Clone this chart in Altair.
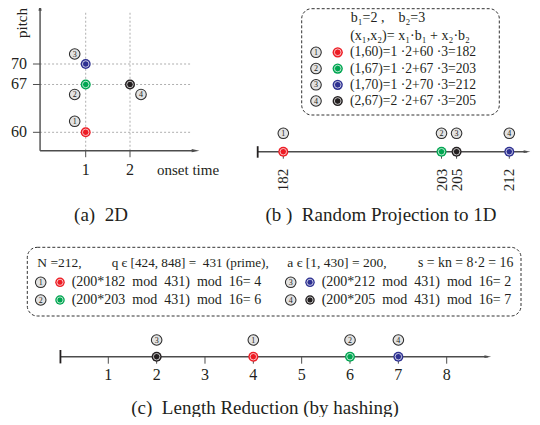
import altair as alt
import pandas as pd

SERIF = "Liberation Serif"
INK = "#231f20"
AXC = "#4d4d4d"
GRID = "#9b9b9b"
TAG_FILL = "#e3e3e3"
RED, GREEN, BLUE, BLACK = "#ed1c24", "#00a651", "#2e3192", "#231f20"
NB = "\u00a0"

# ---------------- data ----------------
point_ids = ["1", "2", "3", "4"]
onset_time = [1, 1, 1, 2]
pitch = [60, 67, 70, 67]
point_colors = [RED, GREEN, BLUE, BLACK]
b1, b2 = 2, 3
projected = [182, 203, 212, 205]
hash_a, hash_q, hash_s = 200, 431, 16
hashed = [4, 6, 2, 7]

a_grid_onset = [1, 2]
a_grid_pitch = [60, 67, 70]
a_tag_dx = [-11, -11, -11, 11]   # pixel placement of the circled ids in (a)
a_tag_dy = [-11, 10, -10, 10]

# projection line (b), as drawn left to right
b_pos = [182, 203, 205, 212]
b_colors = [RED, GREEN, BLACK, BLUE]
b_tags = ["1", "2", "3", "4"]

# hashed line (c), as drawn left to right
c_ticks = [1, 2, 3, 4, 5, 6, 7, 8]
c_pos = [2, 4, 6, 7]
c_colors = [BLACK, RED, GREEN, BLUE]
c_tags = ["3", "1", "2", "4"]

# axis extents (in data units)
A_X_LO, A_X_HI = -0.03, 3.45
A_Y_LO, A_Y_HI = 57.3, 77.9
B_LO, B_HI = 178.6, 214.35
C_LO, C_HI = 0.01, 8.85


def S(domain, rng):
    return alt.Scale(domain=domain, range=rng, nice=False, zero=False)


A_XR = [33.4, 166.3]
A_YR = [124.3, 56]
AX = S([0, 3], A_XR)
AY = S([60, 70], A_YR)
BX = S([182, 212], [275.3, 501.3])
CX = S([1, 8], [100.3, 438.7])
PX_PER_ONSET = (A_XR[1] - A_XR[0]) / 3
PX_PER_PITCH = (A_YR[0] - A_YR[1]) / 10


def qx(f, sc):
    return alt.X(f, type="quantitative", scale=sc, axis=None)


def qy(f, sc):
    return alt.Y(f, type="quantitative", scale=sc, axis=None)


def D(**cols):
    return pd.DataFrame(cols)


ARROW_R = "M-1,-0.42L1,0L-1,0.42Z"
ARROW_U = "M-0.42,1L0,-1L0.42,1Z"

layers = []


def note(text, x, y, size=14, align="left", angle=0, baseline="middle"):
    kw = dict(font=SERIF, fontSize=size, color=INK, align=align, baseline=baseline)
    if angle:
        kw["angle"] = angle
    return alt.Chart(D(t=[text])).mark_text(**kw).encode(
        text="t:N", x=alt.value(x), y=alt.value(y))


def dots(data, xe, ye, size=100):
    disc = alt.Chart(data).mark_point(filled=True, size=size, opacity=1).encode(
        x=xe, y=ye, fill=alt.Fill("color:N", scale=None))
    ring = alt.Chart(data).mark_point(filled=False, size=size * 0.42, stroke="white",
                                      strokeWidth=0.75, opacity=0.95).encode(x=xe, y=ye)
    return [disc, ring]


def tags(data, xe, ye):
    c = alt.Chart(data).mark_point(shape="circle", filled=True, size=112, fill=TAG_FILL,
                                   stroke="#2b2b2b", strokeWidth=1.05, opacity=1).encode(x=xe, y=ye)
    t = alt.Chart(data).mark_text(font=SERIF, fontSize=8, color=INK, align="center",
                                  baseline="middle", dy=0.5).encode(text="id:N", x=xe, y=ye)
    return [c, t]


# ---------------- panel (a) ----------------
layers.append(alt.Chart(D(t=a_grid_onset, lo=[A_Y_LO] * 2, hi=[77.5] * 2)).mark_rule(
    color=GRID, strokeDash=[2, 2], strokeWidth=0.8).encode(
    x=qx("t", AX), y=qy("lo", AY), y2="hi"))
layers.append(alt.Chart(D(p=a_grid_pitch, lo=[A_X_LO] * 3, hi=[3.40] * 3)).mark_rule(
    color=GRID, strokeDash=[2, 2], strokeWidth=0.8).encode(
    y=qy("p", AY), x=qx("lo", AX), x2="hi"))
layers.append(alt.Chart(D(p=a_grid_pitch, lo=[-0.19] * 3, hi=[A_X_LO] * 3)).mark_rule(
    color=AXC, strokeWidth=1).encode(y=qy("p", AY), x=qx("lo", AX), x2="hi"))
layers.append(alt.Chart(D(t=a_grid_onset, lo=[56.35] * 2, hi=[A_Y_LO] * 2)).mark_rule(
    color=AXC, strokeWidth=1).encode(x=qx("t", AX), y=qy("lo", AY), y2="hi"))
layers.append(alt.Chart(D(x=[A_X_LO, A_X_LO], x2=[A_X_LO, A_X_HI],
                          y=[A_Y_LO, A_Y_LO], y2=[A_Y_HI, A_Y_LO])).mark_rule(
    color=AXC, strokeWidth=1.4).encode(x=qx("x", AX), x2="x2", y=qy("y", AY), y2="y2"))
layers.append(alt.Chart(D(x=[A_X_LO, A_X_HI + 0.03], y=[A_Y_HI + 0.45, A_Y_LO],
                          shp=[ARROW_U, ARROW_R])).mark_point(
    filled=True, size=60, color=AXC, opacity=1).encode(
    x=qx("x", AX), y=qy("y", AY), shape=alt.Shape("shp:N", scale=None)))
layers.append(alt.Chart(D(p=a_grid_pitch, x=[A_X_LO] * 3, lab=[str(v) for v in a_grid_pitch])).mark_text(
    font=SERIF, fontSize=16, color=INK, align="right", baseline="middle", dx=-13).encode(
    x=qx("x", AX), y=qy("p", AY), text="lab:N"))
layers.append(alt.Chart(D(t=a_grid_onset, y=[A_Y_LO] * 2, lab=[str(v) for v in a_grid_onset])).mark_text(
    font=SERIF, fontSize=16, color=INK, align="center", baseline="middle", dy=19).encode(
    x=qx("t", AX), y=qy("y", AY), text="lab:N"))
layers.append(alt.Chart(D(x=[2.61], y=[A_Y_LO], lab=["onset time"])).mark_text(
    font=SERIF, fontSize=15, color=INK, align="left", baseline="middle", dy=19).encode(
    x=qx("x", AX), y=qy("y", AY), text="lab:N"))
layers.append(alt.Chart(D(x=[-0.44], y=[76.0], lab=["pitch"])).mark_text(
    font=SERIF, fontSize=15, color=INK, align="center", baseline="middle", angle=270).encode(
    x=qx("x", AX), y=qy("y", AY), text="lab:N"))

a_df = D(id=point_ids, onset=onset_time, pitch=pitch, color=point_colors)
a_df["tx"] = a_df["onset"] + pd.Series(a_tag_dx) / PX_PER_ONSET
a_df["ty"] = a_df["pitch"] - pd.Series(a_tag_dy) / PX_PER_PITCH
layers += dots(a_df, qx("onset", AX), qy("pitch", AY))
layers += tags(a_df, qx("tx", AX), qy("ty", AY))

# ---------------- panel (b) ----------------
B_Y = 143.7
layers.append(alt.Chart(D(x=[B_LO], x2=[B_HI])).mark_rule(color=AXC, strokeWidth=1.4).encode(
    x=qx("x", BX), x2="x2", y=alt.value(B_Y)))
layers.append(alt.Chart(D(x=[B_LO])).mark_rule(color=INK, strokeWidth=1.8).encode(
    x=qx("x", BX), y=alt.value(B_Y - 5.5), y2=alt.value(B_Y + 6)))
layers.append(alt.Chart(D(x=[B_HI], shp=[ARROW_R])).mark_point(
    filled=True, size=45, color=AXC, opacity=1).encode(
    x=qx("x", BX), y=alt.value(B_Y), shape=alt.Shape("shp:N", scale=None)))
b_df = D(id=b_tags, v=b_pos, color=b_colors, lab=[str(v) for v in b_pos])
layers.append(alt.Chart(b_df).mark_rule(color=AXC, strokeWidth=1).encode(
    x=qx("v", BX), y=alt.value(B_Y), y2=alt.value(B_Y + 7)))
layers += dots(b_df, qx("v", BX), alt.value(B_Y))
layers += tags(b_df, qx("v", BX), alt.value(B_Y - 18.4))
layers.append(alt.Chart(b_df).mark_text(
    font=SERIF, fontSize=15, color=INK, align="center", baseline="middle", angle=270).encode(
    x=qx("v", BX), y=alt.value(172), text="lab:N"))

# box (b)
layers.append(alt.Chart(D(k=[0])).mark_rect(
    fill="transparent", stroke="#333333", strokeWidth=1, strokeDash=[3, 2], cornerRadius=10).encode(
    x=alt.value(293.7), x2=alt.value(491.3), y=alt.value(0.7), y2=alt.value(107)))
layers.append(note(f"b\u2081={b1} ,{NB * 4}b\u2082={b2}", 342.7, 9.5))
layers.append(note("(x\u2081,x\u2082)= x\u2081\u00b7b\u2081 + x\u2082\u00b7b\u2082", 342.2, 28))
BR = S([0, 3], [44.3, 93])
box_b = D(row=[0, 1, 2, 3], id=point_ids, color=point_colors,
          text=[f"({o},{p})={o}{NB}\u00b7{b1}+{p}{NB}\u00b7{b2}={v}"
                for o, p, v in zip(onset_time, pitch, projected)])
layers += tags(box_b, alt.value(308), qy("row", BR))
layers += dots(box_b, alt.value(329.7), qy("row", BR), size=105)
layers.append(alt.Chart(box_b).mark_text(
    font=SERIF, fontSize=13.6, color=INK, align="left", baseline="middle").encode(
    x=alt.value(342), y=qy("row", BR), text="text:N"))

layers.append(note(f"(a){NB * 2}2D", 93, 207, size=19, align="center"))
layers.append(note(f"(b ){NB * 2}Random Projection to 1D", 373, 207, size=19, align="center"))

# ---------------- box (c) ----------------
layers.append(alt.Chart(D(k=[0])).mark_rect(
    fill="transparent", stroke="#333333", strokeWidth=1, strokeDash=[3, 2], cornerRadius=10).encode(
    x=alt.value(19.3), x2=alt.value(513), y=alt.value(239.3), y2=alt.value(308)))
N = max(projected)
EPS = "\u0454"
layers.append(note(f"N{NB}={N},", 29.3, 254.7, size=13.5))
layers.append(note(f"q {EPS} [{2 * N}, {4 * N}] ={NB * 2}{hash_q} (prime),", 103.7, 254.7, size=13.2))
layers.append(note(f"a {EPS} [1, {hash_q - 1}] = {hash_a},", 279.3, 254.7, size=13.5))
layers.append(note(f"s = kn = 8\u00b72 = {hash_s}", 410, 254.7, size=13.8))
CR = S([0, 1], [274.3, 292])
gap = NB * 2
box_c = D(col=[0, 0, 1, 1], row=[0, 1, 0, 1], id=point_ids, color=point_colors,
          text=[f"({hash_a}*{v}{gap}mod{gap}{hash_q}){gap}mod{gap}{hash_s}={NB}{h}"
                for v, h in zip(projected, hashed)])
layers += tags(box_c, qx("col", S([0, 1], [32.7, 282.7])), qy("row", CR))
layers += dots(box_c, qx("col", S([0, 1], [52, 302])), qy("row", CR), size=90)
layers.append(alt.Chart(box_c).mark_text(
    font=SERIF, fontSize=14, color=INK, align="left", baseline="middle").encode(
    x=qx("col", S([0, 1], [63.7, 313.7])), y=qy("row", CR), text="text:N"))

# ---------------- panel (c) ----------------
C_Y = 348.7
layers.append(alt.Chart(D(x=[C_LO], x2=[C_HI])).mark_rule(color=AXC, strokeWidth=1.4).encode(
    x=qx("x", CX), x2="x2", y=alt.value(C_Y)))
layers.append(alt.Chart(D(x=[C_LO])).mark_rule(color=INK, strokeWidth=1.8).encode(
    x=qx("x", CX), y=alt.value(C_Y - 6.7), y2=alt.value(C_Y + 6.7)))
layers.append(alt.Chart(D(x=[C_HI], shp=[ARROW_R])).mark_point(
    filled=True, size=45, color=AXC, opacity=1).encode(
    x=qx("x", CX), y=alt.value(C_Y), shape=alt.Shape("shp:N", scale=None)))
ct_df = D(v=c_ticks, lab=[str(v) for v in c_ticks])
layers.append(alt.Chart(ct_df).mark_rule(color=AXC, strokeWidth=1).encode(
    x=qx("v", CX), y=alt.value(C_Y), y2=alt.value(C_Y + 7)))
layers.append(alt.Chart(ct_df).mark_text(
    font=SERIF, fontSize=16, color=INK, align="center", baseline="middle").encode(
    x=qx("v", CX), y=alt.value(C_Y + 18.5), text="lab:N"))
c_df = D(id=c_tags, v=c_pos, color=c_colors)
layers += dots(c_df, qx("v", CX), alt.value(C_Y))
layers += tags(c_df, qx("v", CX), alt.value(C_Y - 16.7))
layers.append(note(f"(c){NB * 2}Length Reduction (by hashing)", 257, 400, size=19, align="center"))

chart = alt.layer(*layers).resolve_scale(x="independent", y="independent").properties(
    width=524, height=409, autosize=alt.AutoSizeParams(type="none"), padding=0
).configure_view(stroke=None)

chart.save("out.html", embed_options={"renderer": "svg", "actions": False})
